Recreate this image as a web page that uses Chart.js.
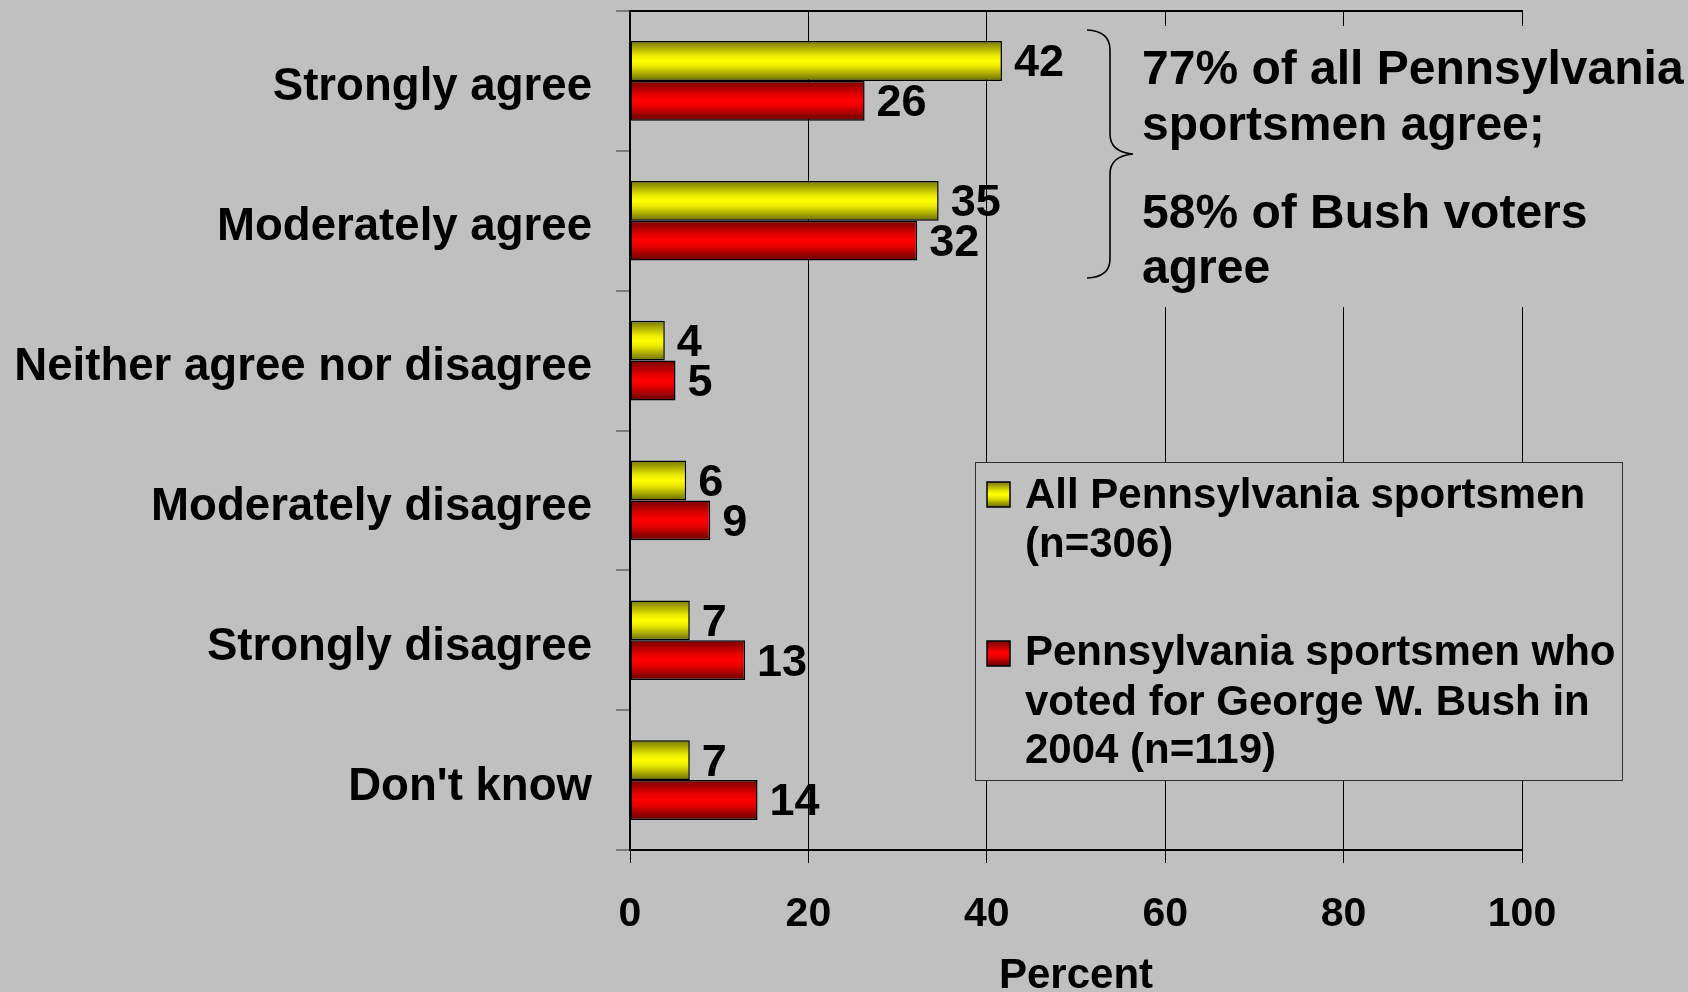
<!DOCTYPE html>
<html>
<head>
<meta charset="utf-8">
<script src="https://cdn.jsdelivr.net/npm/chart.js@4.4.1/dist/chart.umd.min.js"></script>
<style>
  html, body { margin: 0; padding: 0; background: #c0c0c0; }
  #wrap { width: 1688px; height: 992px; }
</style>
</head>
<body>
<div id="wrap"><canvas id="chart" width="1688" height="992"></canvas></div>
<script>
// Categories, top to bottom
const categories = ['Strongly agree', 'Moderately agree', 'Neither agree nor disagree',
  'Moderately disagree', 'Strongly disagree', "Don't know"];

// Percent values
const allSportsmen = [41.7, 34.6, 3.9, 6.3, 6.7, 6.7];
const bushVoters = [26.3, 32.2, 5.1, 9.0, 12.9, 14.3];

// Value labels printed next to the bars
const allLabels = ['42', '35', '4', '6', '7', '7'];
const bushLabels = ['26', '32', '5', '9', '13', '14'];

// Axis ticks
const xTicks = [0, 20, 40, 60, 80, 100];

// Legend text and side note
const legendAll = ['All Pennsylvania sportsmen', '(n=306)'];
const legendBush = ['Pennsylvania sportsmen who', 'voted for George W. Bush in', '2004 (n=119)'];
const noteLines = ['77% of all Pennsylvania', 'sportsmen agree;', '58% of Bush voters', 'agree'];

const FONT = '"Liberation Sans", Arial, sans-serif';
const BG = '#c0c0c0';
const CAT_PCT = 0.57;

const YELLOW = ['#767600', '#e8e800', '#ffff00', '#6a6a00'];
const RED = ['#760000', '#e80000', '#ff0000', '#620000'];

function makeGrad(ctx, top, h, c) {
  const g = ctx.createLinearGradient(0, top, 0, top + h);
  g.addColorStop(0, c[0]);
  g.addColorStop(0.36, c[1]);
  g.addColorStop(0.5, c[2]);
  g.addColorStop(0.64, c[1]);
  g.addColorStop(1, c[3]);
  return g;
}

// fill each bar with a vertical shaded gradient, placed from the y scale
function barFill(colors) {
  return function (c) {
    const chart = c.chart;
    const ys = chart.scales.y;
    if (c.type !== 'data' || !ys || !chart.chartArea) return colors[2];
    const center = ys.getPixelForValue(c.dataIndex);
    const band = ys.height / categories.length * CAT_PCT / 2;
    const top = c.datasetIndex === 0 ? center - band : center;
    return makeGrad(chart.ctx, top, band, colors);
  };
}

const background = {
  id: 'background',
  beforeDraw(chart) {
    const ctx = chart.ctx;
    ctx.save();
    ctx.fillStyle = BG;
    ctx.fillRect(0, 0, chart.width, chart.height);
    ctx.restore();
  }
};

const valueLabels = {
  id: 'valueLabels',
  afterDatasetsDraw(chart) {
    const ctx = chart.ctx;
    const a = chart.chartArea;
    ctx.save();
    // top frame line
    ctx.strokeStyle = '#000';
    ctx.lineWidth = 2;
    ctx.beginPath();
    ctx.moveTo(a.left, a.top);
    ctx.lineTo(a.right + 1, a.top);
    ctx.stroke();

    ctx.font = 'bold 45px ' + FONT;
    ctx.fillStyle = '#000';
    ctx.textAlign = 'left';
    ctx.textBaseline = 'middle';
    [allLabels, bushLabels].forEach((labels, di) => {
      chart.getDatasetMeta(di).data.forEach((bar, i) => {
        ctx.fillText(labels[i], bar.x + 12, bar.y + 3);
      });
    });
    ctx.restore();
  }
};

const sideNote = {
  id: 'sideNote',
  afterDraw(chart) {
    const ctx = chart.ctx;
    ctx.save();
    ctx.fillStyle = BG;
    ctx.fillRect(1136, 26, 552, 281);

    // brace
    ctx.strokeStyle = '#000';
    ctx.lineWidth = 1.6;
    ctx.beginPath();
    ctx.moveTo(1087, 30);
    ctx.quadraticCurveTo(1110, 31, 1110, 50);
    ctx.lineTo(1110, 134);
    ctx.quadraticCurveTo(1110, 152, 1133, 154);
    ctx.quadraticCurveTo(1110, 156, 1110, 174);
    ctx.lineTo(1110, 259);
    ctx.quadraticCurveTo(1110, 277, 1087, 278);
    ctx.stroke();

    ctx.font = 'bold 48px ' + FONT;
    ctx.fillStyle = '#000';
    ctx.textAlign = 'left';
    ctx.textBaseline = 'alphabetic';
    const base = [84, 140, 228, 283];
    noteLines.forEach((t, i) => ctx.fillText(t, 1142, base[i]));
    ctx.restore();
  }
};

const boxLegend = {
  id: 'boxLegend',
  afterDraw(chart) {
    const ctx = chart.ctx;
    ctx.save();
    ctx.fillStyle = BG;
    ctx.fillRect(975.5, 462.5, 647, 318);
    ctx.strokeStyle = '#303030';
    ctx.lineWidth = 1;
    ctx.strokeRect(975.5, 462.5, 647, 318);

    const entries = [
      { lines: legendAll, colors: YELLOW, sw: 482, base: [508, 557] },
      { lines: legendBush, colors: RED, sw: 641, base: [665, 715, 763] }
    ];
    entries.forEach(e => {
      ctx.fillStyle = makeGrad(ctx, e.sw, 25, e.colors);
      ctx.fillRect(987, e.sw, 23, 25);
      ctx.strokeStyle = '#000';
      ctx.lineWidth = 1.5;
      ctx.strokeRect(987, e.sw, 23, 25);
      ctx.font = 'bold 42px ' + FONT;
      ctx.fillStyle = '#000';
      ctx.textAlign = 'left';
      ctx.textBaseline = 'alphabetic';
      e.lines.forEach((t, i) => ctx.fillText(t, 1025, e.base[i]));
    });
    ctx.restore();
  }
};

new Chart(document.getElementById('chart'), {
  type: 'bar',
  data: {
    labels: categories,
    datasets: [
      {
        label: legendAll.join(' '),
        data: allSportsmen,
        backgroundColor: barFill(YELLOW),
        borderColor: '#000',
        borderWidth: 1.5,
        borderSkipped: false,
        barPercentage: 1,
        categoryPercentage: CAT_PCT
      },
      {
        label: legendBush.join(' '),
        data: bushVoters,
        backgroundColor: barFill(RED),
        borderColor: '#000',
        borderWidth: 1.5,
        borderSkipped: false,
        barPercentage: 1,
        categoryPercentage: CAT_PCT
      }
    ]
  },
  options: {
    indexAxis: 'y',
    responsive: false,
    animation: false,
    devicePixelRatio: 1,
    layout: { autoPadding: false, padding: { top: 11, right: 166, left: 0, bottom: 0 } },
    plugins: { legend: { display: false }, tooltip: { enabled: false } },
    scales: {
      x: {
        min: 0,
        max: 100,
        afterBuildTicks: s => { s.ticks = xTicks.map(v => ({ value: v })); },
        afterFit: s => { s.height = 142; s.paddingLeft = 0; s.paddingRight = 0; },
        grid: { color: '#000', lineWidth: 1, tickLength: 13 },
        border: { color: '#000', width: 2 },
        ticks: { color: '#000', padding: 27, font: { family: FONT, size: 41, weight: 'bold' } },
        title: {
          display: true,
          text: 'Percent',
          color: '#000',
          padding: 0,
          font: { family: FONT, size: 42, weight: 'bold', lineHeight: 0.72 }
        }
      },
      y: {
        afterFit: s => { s.width = 630; s.paddingTop = 0; s.paddingBottom = 0; },
        grid: { drawOnChartArea: false, drawTicks: true, tickLength: 14, color: '#7a7a7a', lineWidth: 2, offset: true },
        border: { color: '#000', width: 2 },
        ticks: { color: '#000', padding: 24, labelOffset: 7, font: { family: FONT, size: 45.6, weight: 'bold' } }
      }
    }
  },
  plugins: [background, valueLabels, sideNote, boxLegend]
});
</script>
</body>
</html>
